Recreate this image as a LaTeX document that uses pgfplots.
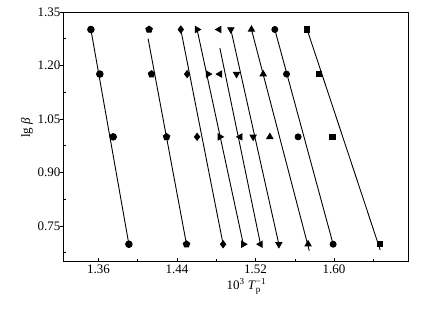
\documentclass[border=0pt]{standalone}
\usepackage{amsmath}
\usepackage{pgfplots}
\pgfplotsset{compat=1.18}
\usetikzlibrary{plotmarks}
\usepackage{fontspec}
\setmainfont{Liberation Serif}
\begin{document}
\begin{tikzpicture}
\begin{axis}[
  at={(0,0)}, anchor=south west,
  scale only axis, width=344.7pt, height=249.7pt,
  xmin=1.3248, xmax=1.6760, ymin=0.65, ymax=1.35,
  xtick={1.36,1.44,1.52,1.60},
  minor xtick={1.40,1.48,1.56,1.64},
  ytick={0.75,0.90,1.05,1.20,1.35},
  minor ytick={0.675,0.825,0.975,1.125,1.275},
  xticklabel style={/pgf/number format/.cd,fixed,fixed zerofill,precision=2},
  yticklabel style={/pgf/number format/.cd,fixed,fixed zerofill,precision=2},
  /pgf/number format/assume math mode=true,
  tick pos=left, tick align=inside,
  major y tick style={xshift=-4pt},
  major tick length=4pt, minor tick length=2.5pt,
  tick style={black, line width=0.7pt},
  axis line style={line width=1pt},
  ticklabel style={font=\fontsize{13}{15}\selectfont},
  xlabel={10\textsuperscript{3} \textit{T}$_{\text{p}}^{\text{−1}}$},
  ylabel={lg \textit{β}},
  label style={font=\fontsize{13}{15}\selectfont},
  xlabel style={xshift=10pt, yshift=2pt},
  ylabel style={yshift=-2pt, xshift=9pt},
  scaled ticks=false,
  every axis plot/.append style={black, line width=0.9pt},
]
% fitted lines
\addplot[no marks] coordinates {(1.3522,1.301) (1.3909,0.699)};
\addplot[no marks] coordinates {(1.4105,1.2751) (1.4496,0.699)};
\addplot[no marks] coordinates {(1.4438,1.301) (1.4869,0.699)};
\addplot[no marks] coordinates {(1.4604,1.301) (1.5075,0.699)};
\addplot[no marks] coordinates {(1.4836,1.2491) (1.5250,0.699)};
\addplot[no marks] coordinates {(1.4948,1.301) (1.5437,0.699)};
\addplot[no marks] coordinates {(1.5158,1.301) (1.5747,0.6808)};
\addplot[no marks] coordinates {(1.5396,1.301) (1.5990,0.699)};
\addplot[no marks] coordinates {(1.5725,1.301) (1.6470,0.6828)};
% data points
\addplot[only marks, mark=*, mark size=3.3pt] coordinates {(1.3522,1.301) (1.3613,1.176) (1.3749,1.000) (1.3909,0.699)};
\addplot[only marks, mark=pentagon*, mark size=3.4pt] coordinates {(1.4115,1.301) (1.4140,1.176) (1.4293,1.000) (1.4496,0.699)};
\addplot[only marks, mark=diamond*, mark size=3.5pt] coordinates {(1.4438,1.301) (1.4503,1.176) (1.4604,1.000) (1.4869,0.699)};
\addplot[only marks, mark=triangle*, mark size=3.5pt, mark options={rotate=-90}] coordinates {(1.4604,1.301) (1.4716,1.176) (1.4836,1.000) (1.5075,0.699)};
\addplot[only marks, mark=triangle*, mark size=3.5pt, mark options={rotate=90}] coordinates {(1.4829,1.301) (1.4836,1.176) (1.5044,1.000) (1.5250,0.699)};
\addplot[only marks, mark=triangle*, mark size=3.5pt, mark options={rotate=180}] coordinates {(1.4948,1.301) (1.5006,1.176) (1.5175,1.000) (1.5437,0.699)};
\addplot[only marks, mark=triangle*, mark size=3.5pt] coordinates {(1.5158,1.301) (1.5277,1.176) (1.5345,1.000) (1.5735,0.699)};
\addplot[only marks, mark=*, mark size=3pt] coordinates {(1.5396,1.301) (1.5515,1.176) (1.5633,1.000) (1.5990,0.699)};
\addplot[only marks, mark=square*, mark size=2.7pt] coordinates {(1.5725,1.301) (1.5844,1.176) (1.5984,1.000) (1.6465,0.699)};
\end{axis}
\pgfresetboundingbox
\path[use as bounding box] (-64pt,-47.3pt) rectangle (358pt,261.7pt);
\end{tikzpicture}
\end{document}
